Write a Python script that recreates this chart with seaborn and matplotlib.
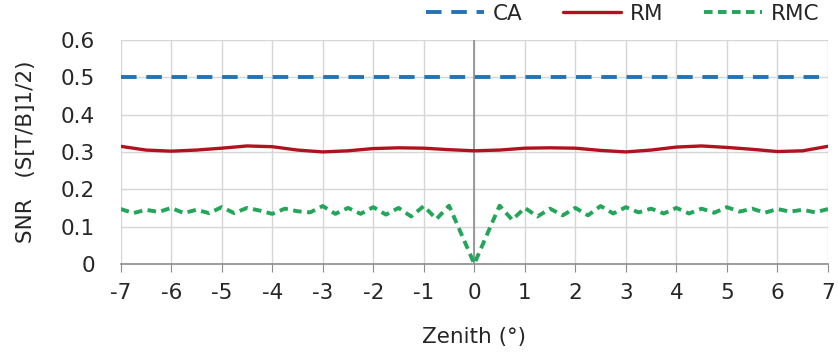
import numpy as np
import matplotlib
matplotlib.use('Agg')
import matplotlib.pyplot as plt
import seaborn as sns
import pandas as pd

sns.set_style('white')
plt.rcParams['font.family'] = ['DejaVu Sans']
plt.rcParams['axes.unicode_minus'] = False

# zenith angles (deg)
zen_rm = [-7, -6.5, -6, -5.5, -5, -4.5, -4, -3.5, -3, -2.5, -2, -1.5, -1, -0.5, 0,
          0.5, 1, 1.5, 2, 2.5, 3, 3.5, 4, 4.5, 5, 5.5, 6, 6.5, 7]
zen_rmc = [-7, -6.75, -6.5, -6.25, -6, -5.75, -5.5, -5.25, -5, -4.75, -4.5, -4.25,
           -4, -3.75, -3.5, -3.25, -3, -2.75, -2.5, -2.25, -2, -1.75, -1.5, -1.25,
           -1, -0.75, -0.5, -0.25, 0, 0.25, 0.5, 0.75, 1, 1.25, 1.5, 1.75, 2, 2.25,
           2.5, 2.75, 3, 3.25, 3.5, 3.75, 4, 4.25, 4.5, 4.75, 5, 5.25, 5.5, 5.75,
           6, 6.25, 6.5, 6.75, 7]
zen_ca = [-7, 7]

ca = [0.5, 0.5]
rm = [0.315, 0.305, 0.302, 0.305, 0.310, 0.316, 0.314, 0.305, 0.300, 0.303, 0.309,
      0.311, 0.310, 0.306, 0.303, 0.305, 0.310, 0.311, 0.310, 0.304, 0.300, 0.305,
      0.313, 0.316, 0.312, 0.307, 0.301, 0.303, 0.315]
rmc = [0.147, 0.136, 0.145, 0.139, 0.150, 0.136, 0.145, 0.136, 0.152, 0.136, 0.150,
       0.143, 0.134, 0.148, 0.141, 0.138, 0.155, 0.134, 0.150, 0.134, 0.152, 0.132,
       0.150, 0.127, 0.155, 0.120, 0.156, 0.078, 0.0, 0.078, 0.156, 0.118, 0.150,
       0.127, 0.148, 0.130, 0.150, 0.130, 0.155, 0.135, 0.152, 0.138, 0.148, 0.135,
       0.150, 0.135, 0.148, 0.137, 0.152, 0.140, 0.148, 0.137, 0.147, 0.140, 0.145,
       0.138, 0.147]

df_ca = pd.DataFrame({'zen': zen_ca, 'snr': ca})
df_rm = pd.DataFrame({'zen': zen_rm, 'snr': rm})
df_rmc = pd.DataFrame({'zen': zen_rmc, 'snr': rmc})

fig = plt.figure(figsize=(8.38, 3.6), dpi=100)
ax = fig.add_axes([0.144, 0.267, 0.844, 0.622])

sns.lineplot(x='zen', y='snr', data=df_ca, ax=ax, color='#2474b5', lw=2.8, label='CA')
sns.lineplot(x='zen', y='snr', data=df_rm, ax=ax, color='#b0121f', lw=2.4, label='RM')
sns.lineplot(x='zen', y='snr', data=df_rmc, ax=ax, color='#23a55a', lw=2.8, label='RMC')
ax.lines[0].set_dashes([4, 2.5])
ax.lines[2].set_dashes([2.2, 1.4])

ax.set_xlim(-7, 7)
ax.set_ylim(0, 0.6)
ax.set_xticks(range(-7, 8))
ax.set_yticks(np.arange(0, 0.61, 0.1))
ax.set_yticklabels(['0', '0.1', '0.2', '0.3', '0.4', '0.5', '0.6'])
ax.grid(True, color='#d6d6d6', lw=1)
ax.set_axisbelow(True)
ax.axvline(0, color='#8c8c8c', lw=1.2, zorder=1)

for s in ['top', 'right', 'left']:
    ax.spines[s].set_visible(False)
ax.spines['bottom'].set_color('#8c8c8c')
ax.spines['bottom'].set_linewidth(1.2)
ax.tick_params(axis='x', which='both', bottom=True, length=6, color='#8c8c8c',
               labelsize=15.5, pad=8)
ax.tick_params(axis='y', left=False, labelsize=15.5, pad=15)

ax.set_xlabel('Zenith (°)', fontsize=15.5, labelpad=17)
ax.set_ylabel('SNR   (S[T/B]1/2)', fontsize=15.5, labelpad=18)

ax.legend(loc='lower right', bbox_to_anchor=(1.0, 1.035), ncol=3, frameon=False,
          fontsize=15.5, handlelength=2.7, columnspacing=1.9, handletextpad=0.4,
          borderaxespad=0)

fig.savefig('out.png', dpi=100)
